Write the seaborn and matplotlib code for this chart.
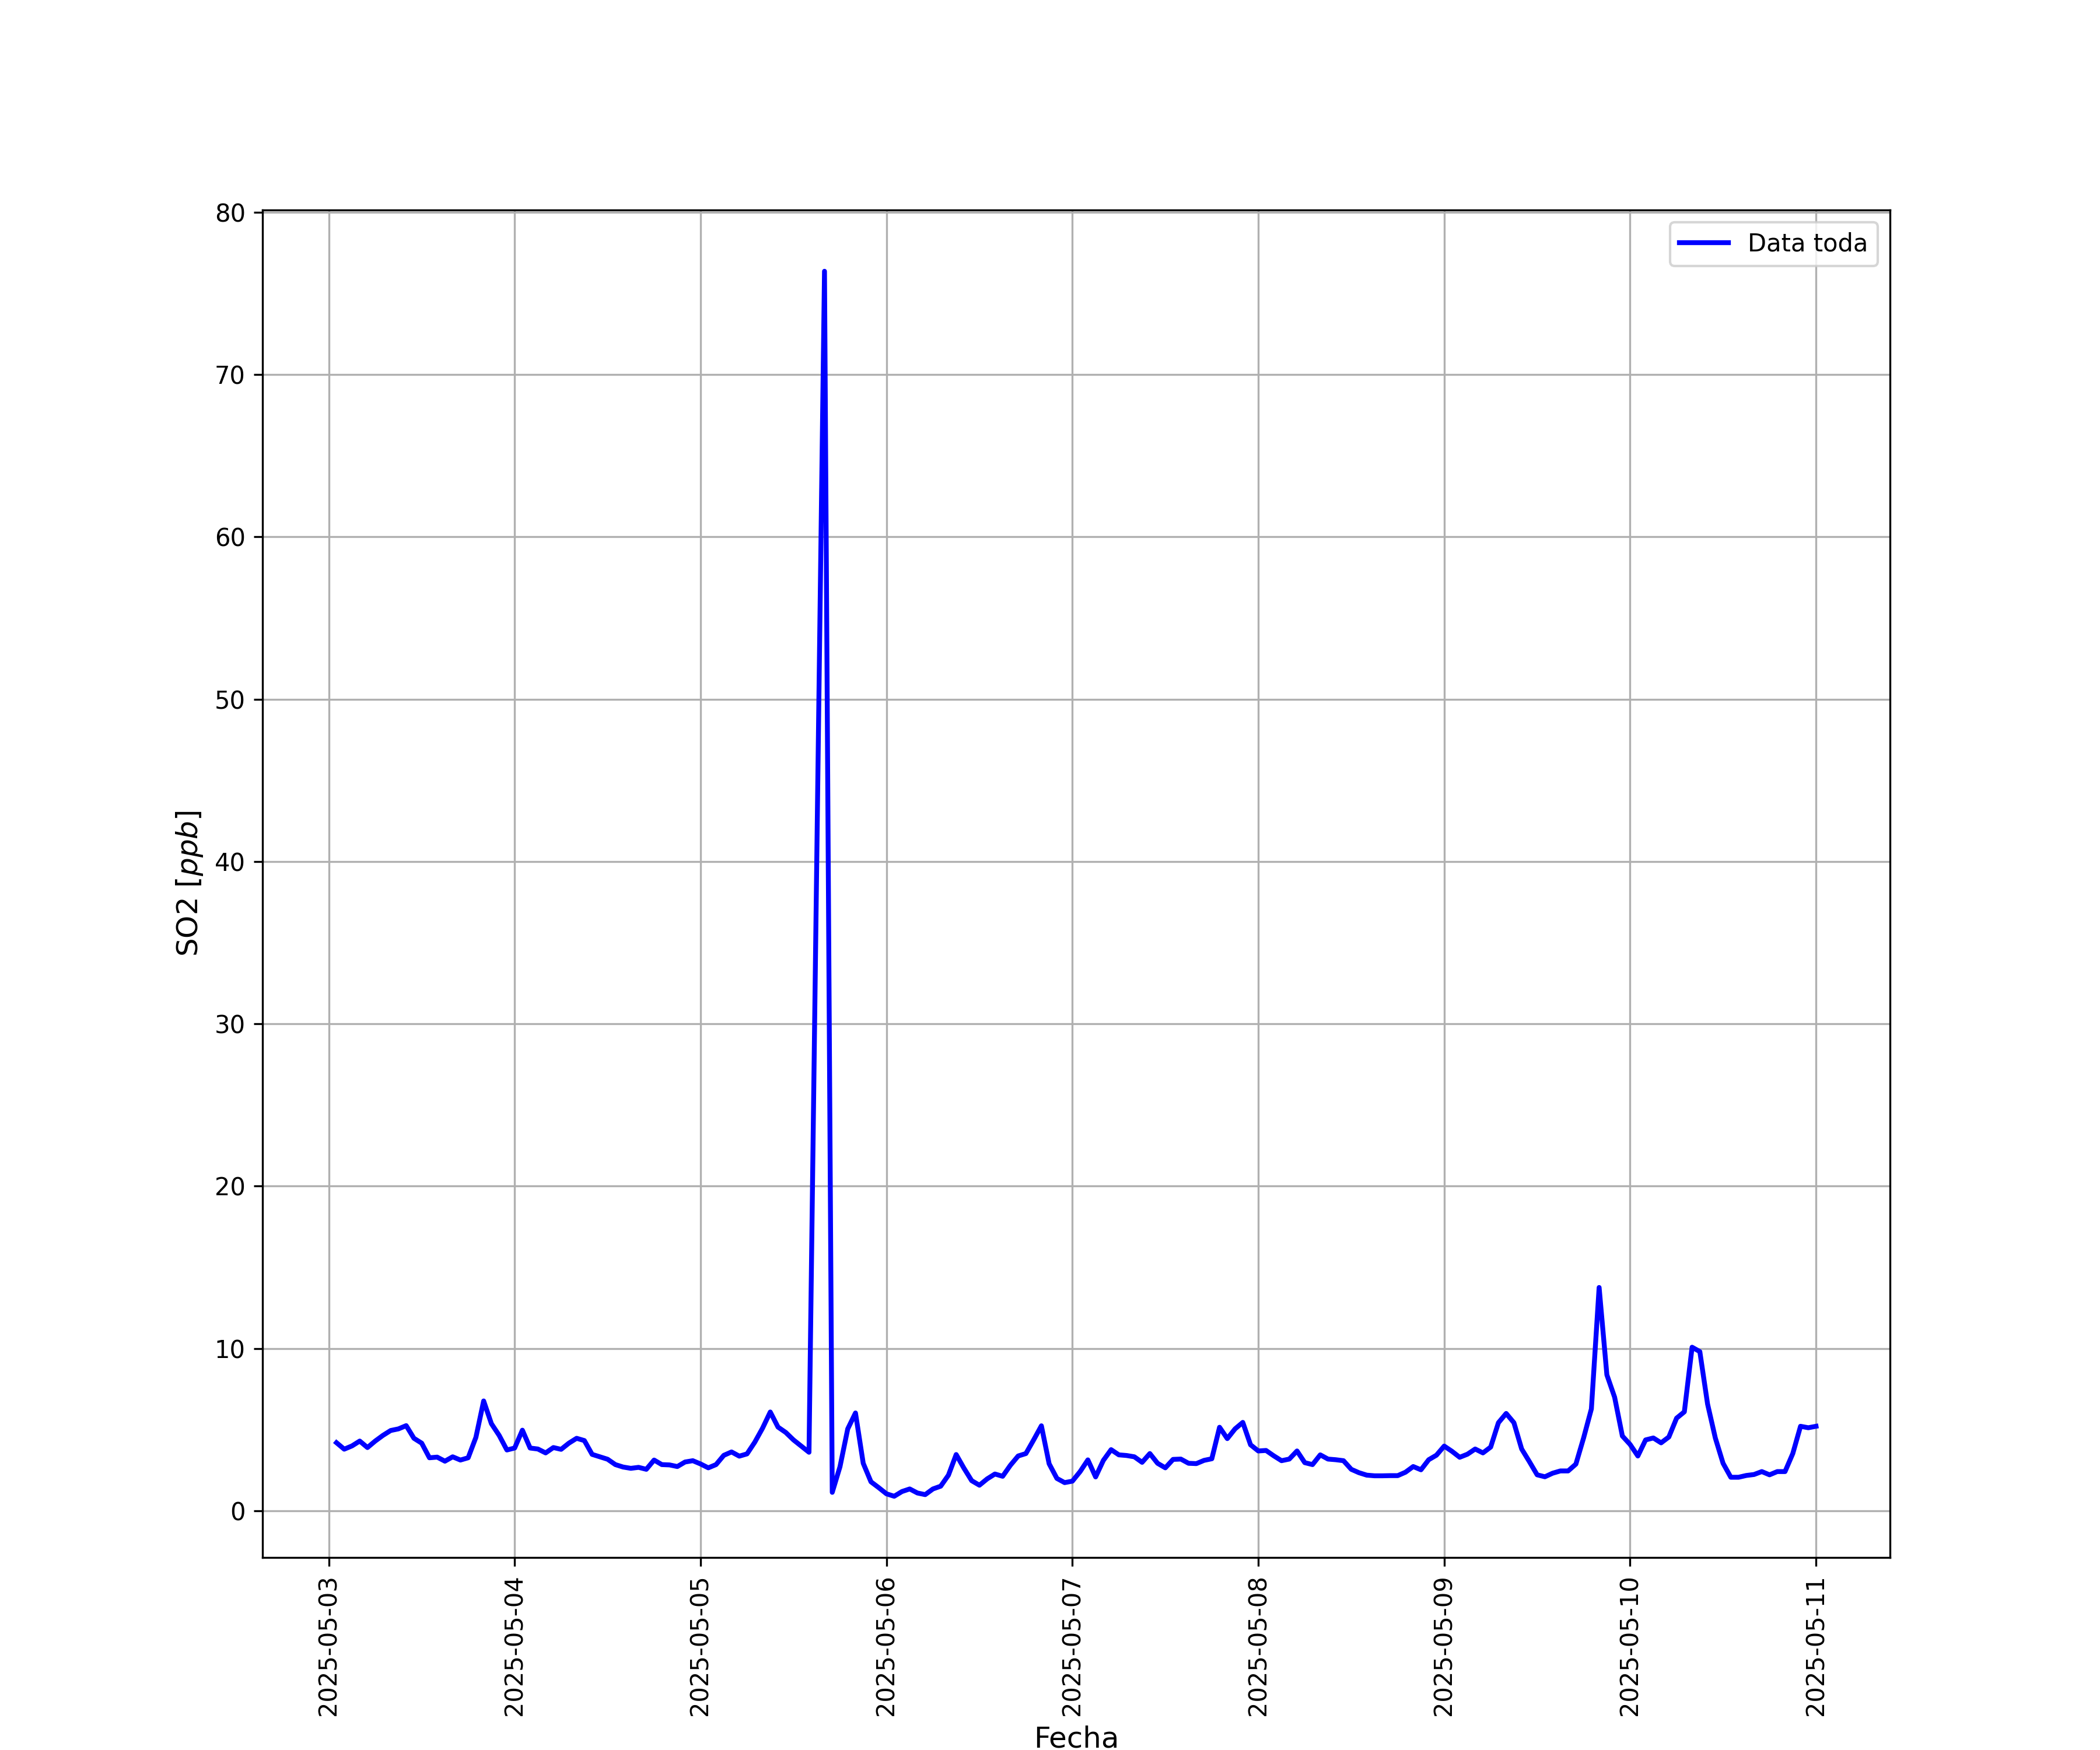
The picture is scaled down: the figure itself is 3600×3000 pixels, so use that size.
import numpy as np
import pandas as pd
import matplotlib
matplotlib.use("Agg")
import matplotlib.pyplot as plt
import matplotlib.dates as mdates
import seaborn as sns

# ---- data ----
start_time = "2025-05-03 01:00"
end_time = "2025-05-11 00:00"
missing_times = ["2025-05-05 15:00"]

so2_ppb = [
    4.2, 3.8, 4.0, 4.3, 3.9, 4.3, 4.65, 4.95, 5.05, 5.25,
    4.47, 4.17, 3.27, 3.31, 3.06, 3.33, 3.13, 3.27, 4.53, 6.77,
    5.37, 4.65, 3.75, 3.87, 4.97, 3.87, 3.81, 3.57, 3.90, 3.79,
    4.17, 4.47, 4.33, 3.48, 3.33, 3.18, 2.85, 2.70, 2.62, 2.68,
    2.56, 3.13, 2.85, 2.83, 2.73, 3.01, 3.09, 2.89, 2.65, 2.85,
    3.42, 3.63, 3.37, 3.51, 4.23, 5.09, 6.09, 5.16, 4.83, 4.37,
    3.99, 3.61, 76.36, 1.14, 2.72, 5.05, 6.03, 2.93, 1.79,
    1.43, 1.05, 0.90, 1.19, 1.35, 1.10, 1.00, 1.35, 1.52, 2.20,
    3.47, 2.63, 1.86, 1.58, 1.97, 2.27, 2.13, 2.81, 3.38, 3.53,
    4.37, 5.24, 2.90, 2.00, 1.74, 1.83, 2.42, 3.14, 2.09, 3.11,
    3.77, 3.45, 3.41, 3.33, 2.99, 3.53, 2.93, 2.65, 3.17, 3.19,
    2.93, 2.91, 3.11, 3.21, 5.15, 4.45, 5.05, 5.45, 4.07, 3.69,
    3.72, 3.39, 3.09, 3.19, 3.69, 2.97, 2.85, 3.45, 3.19, 3.15,
    3.09, 2.56, 2.35, 2.20, 2.16, 2.16, 2.17, 2.17, 2.38, 2.73,
    2.53, 3.15, 3.43, 3.99, 3.67, 3.30, 3.49, 3.81, 3.57, 3.93,
    5.43, 6.00, 5.43, 3.81, 3.03, 2.22, 2.10, 2.32, 2.46, 2.46,
    2.88, 4.50, 6.28, 13.76, 8.38, 7.00, 4.61, 4.09, 3.38, 4.37,
    4.49, 4.19, 4.55, 5.71, 6.10, 10.08, 9.81, 6.58, 4.49, 2.93,
    2.07, 2.07, 2.18, 2.24, 2.42, 2.22, 2.42, 2.42, 3.53, 5.21,
    5.12, 5.21,
]

times = pd.date_range(start_time, end_time, freq="h")
times = times.drop(pd.to_datetime(missing_times))
df = pd.DataFrame({"Fecha": times, "SO2": so2_ppb})

# ---- plot ----
fig, ax = plt.subplots(figsize=(12, 10), dpi=300)
sns.lineplot(data=df, x="Fecha", y="SO2", color="blue", linewidth=2,
             label="Data toda", ax=ax)

ax.xaxis.set_major_locator(mdates.DayLocator())
ax.xaxis.set_major_formatter(mdates.DateFormatter("%Y-%m-%d"))
plt.setp(ax.get_xticklabels(), rotation=90)
ax.tick_params(labelsize=10)
ax.set_xlabel("Fecha", fontsize=12)
ax.set_ylabel("SO2 [$ppb$]", fontsize=12)
ax.grid(True)
ax.legend(loc="upper right", fontsize=10)

fig.savefig("out.png", dpi=300)
